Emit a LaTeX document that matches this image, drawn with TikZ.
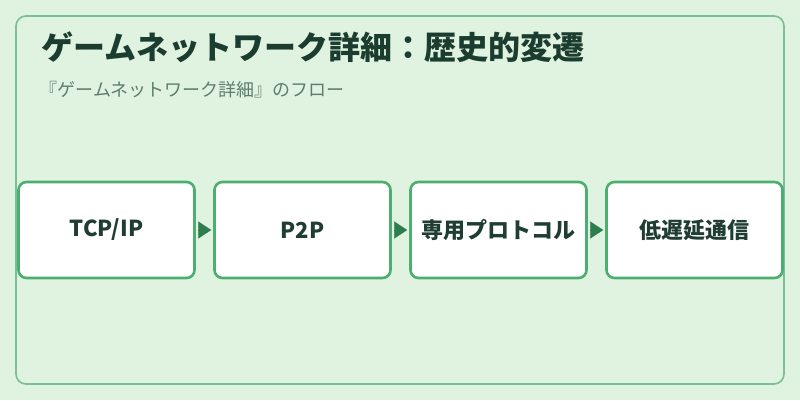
\documentclass[tikz,border=0pt]{standalone}
\usepackage{fontspec}
\setmainfont{Noto Sans CJK JP}
\usetikzlibrary{arrows.meta}
\definecolor{bgc}{HTML}{E0F2E0}
\definecolor{framec}{HTML}{7DBF94}
\definecolor{boxc}{HTML}{4CAF70}
\definecolor{arrc}{HTML}{2E7D4F}
\definecolor{titlec}{HTML}{1B3D2F}
\definecolor{subc}{HTML}{5E7D6C}
\definecolor{textc}{HTML}{1F3D33}
\tikzset{
  stepbox/.style={draw=boxc, line width=2.6pt, fill=white, rounded corners=8pt,
    minimum width=176pt, minimum height=96pt, inner sep=0pt,
    font=\fontsize{22}{26}\selectfont\bfseries, text=textc},
  flow/.style={-{Triangle[length=13pt,width=17pt]}, draw=arrc, fill=arrc, line width=0.1pt, shorten >=2pt, shorten <=4pt}
}
\begin{document}
\begin{tikzpicture}[x=1pt,y=-1pt]
\useasboundingbox (0,0) rectangle (800,400);
\fill[bgc] (0,0) rectangle (800,400);
\draw[framec, line width=1.6pt, rounded corners=10pt] (16,16) rectangle (784,384);
\node[anchor=base west, text=titlec, font=\fontsize{32}{38}\selectfont\bfseries] (title) at (38,59) {ゲームネットワーク詳細：歴史的変遷};
\node[anchor=base west, text=subc, font=\fontsize{18}{22}\selectfont] (sub) at (36,96) {『ゲームネットワーク詳細』のフロー};
\node[stepbox] (a) at (106.5,230) {TCP/IP};
\node[stepbox] (b) at (302.5,230) {P2P};
\node[stepbox] (c) at (498.5,230) {専用プロトコル};
\node[stepbox] (d) at (694.5,230) {低遅延通信};
\draw[flow] (a.east) -- (b.west);
\draw[flow] (b.east) -- (c.west);
\draw[flow] (c.east) -- (d.west);
\end{tikzpicture}
\end{document}
